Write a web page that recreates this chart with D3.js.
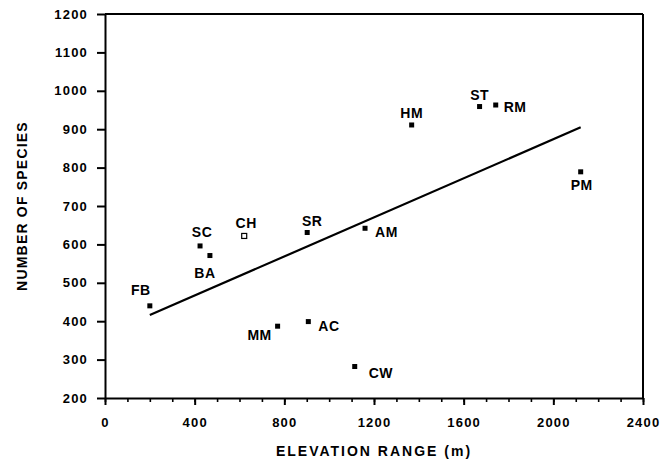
<!DOCTYPE html>
<html><head><meta charset="utf-8">
<script src="https://cdn.jsdelivr.net/npm/d3@7"></script>
<style>
body{margin:0;background:#fff;}
text{font-family:"Liberation Sans",Arial,sans-serif;font-weight:bold;fill:#000;}
</style></head>
<body><svg id="c" width="668" height="460"></svg>
<script>
const sites = ["FB","SC","BA","CH","SR","AM","MM","AC","CW","HM","ST","RM","PM"];
const elevation = [200,424,468,621,902,1160,770,907,1114,1368,1671,1743,2122];
const species = [440,596,571,622,631,642,387,399,282,911,959,963,789];
const fitX = [200,2122];
const fitY = [416,905];
const xTicks = [0,400,800,1200,1600,2000,2400];
const yTicks = [200,300,400,500,600,700,800,900,1000,1100,1200];
// label offsets (dx,dy) relative to point, and anchor
const labelPos = [[-9,-11,"middle"],[2,-9,"middle"],[-5,22,"middle"],[2,-8,"middle"],[5,-6,"middle"],[10,9,"start"],[-18,14,"middle"],[10,9,"start"],[14,11,"start"],[0,-7,"middle"],[0,-7,"middle"],[8,7,"start"],[1,18,"middle"]];

const svg = d3.select("#c");
const L=105,R=643,T=14,B=398;
const x = d3.scaleLinear().domain([0,2400]).range([L,R]);
const y = d3.scaleLinear().domain([200,1200]).range([B,T]);
const tickFont = "DejaVu Sans, sans-serif";

// frame top/right
svg.append("line").attr("x1",L).attr("x2",R).attr("y1",T).attr("y2",T).attr("stroke","#000").attr("stroke-width",2);
svg.append("line").attr("x1",R).attr("x2",R).attr("y1",T).attr("y2",B).attr("stroke","#000").attr("stroke-width",2);

// minor x ticks
const gxm = svg.append("g").attr("transform",`translate(0,${B})`)
  .call(d3.axisBottom(x).tickValues(d3.range(0,2401,100)).tickSize(4).tickFormat(""));
gxm.select(".domain").remove();
gxm.selectAll("line").attr("stroke-width",1.6);

const gx = svg.append("g").attr("transform",`translate(0,${B})`)
  .call(d3.axisBottom(x).tickValues(xTicks).tickSize(7).tickSizeOuter(0).tickPadding(13).tickFormat(d3.format("d")));
gx.select(".domain").attr("stroke-width",2);
gx.selectAll("line").attr("stroke-width",2);
gx.selectAll("text").attr("font-size",13).attr("font-family",tickFont).attr("font-weight","bold").attr("letter-spacing","1.2px");

const gy = svg.append("g").attr("transform",`translate(${L},0)`)
  .call(d3.axisLeft(y).tickValues(yTicks).tickSize(8).tickSizeOuter(0).tickPadding(9).tickFormat(d3.format("d")));
gy.select(".domain").attr("stroke-width",2);
gy.selectAll("line").attr("stroke-width",2);
gy.selectAll("text").attr("font-size",13).attr("font-family",tickFont).attr("font-weight","bold").attr("letter-spacing","1.2px");

// fit line
svg.append("path").datum(fitX.map((v,i)=>[v,fitY[i]]))
  .attr("d",d3.line().x(d=>x(d[0])).y(d=>y(d[1])))
  .attr("fill","none").attr("stroke","#000").attr("stroke-width",2.2);

// points
const pts = sites.map((s,i)=>({s,ex:elevation[i],sp:species[i],lp:labelPos[i]}));
svg.selectAll("rect.pt").data(pts).enter().append("rect").attr("class","pt")
  .attr("x",d=>x(d.ex)-2.5).attr("y",d=>y(d.sp)-2.5).attr("width",5).attr("height",5)
  .attr("fill",d=>d.s==="CH"?"#fff":"#000").attr("stroke","#000").attr("stroke-width",d=>d.s==="CH"?1.2:0);

svg.selectAll("text.lbl").data(pts).enter().append("text").attr("class","lbl")
  .attr("x",d=>x(d.ex)+d.lp[0]).attr("y",d=>y(d.sp)+d.lp[1])
  .attr("text-anchor",d=>d.lp[2]).attr("font-size",14).attr("letter-spacing","0.5px").text(d=>d.s);

svg.append("text").attr("x",374).attr("y",456).attr("text-anchor","middle").attr("font-size",14).attr("letter-spacing","2px").text("ELEVATION RANGE (m)");
svg.append("text").attr("transform","translate(27,206) rotate(-90)").attr("text-anchor","middle").attr("font-size",14).attr("letter-spacing","1.2px").text("NUMBER OF SPECIES");
</script></body></html>
